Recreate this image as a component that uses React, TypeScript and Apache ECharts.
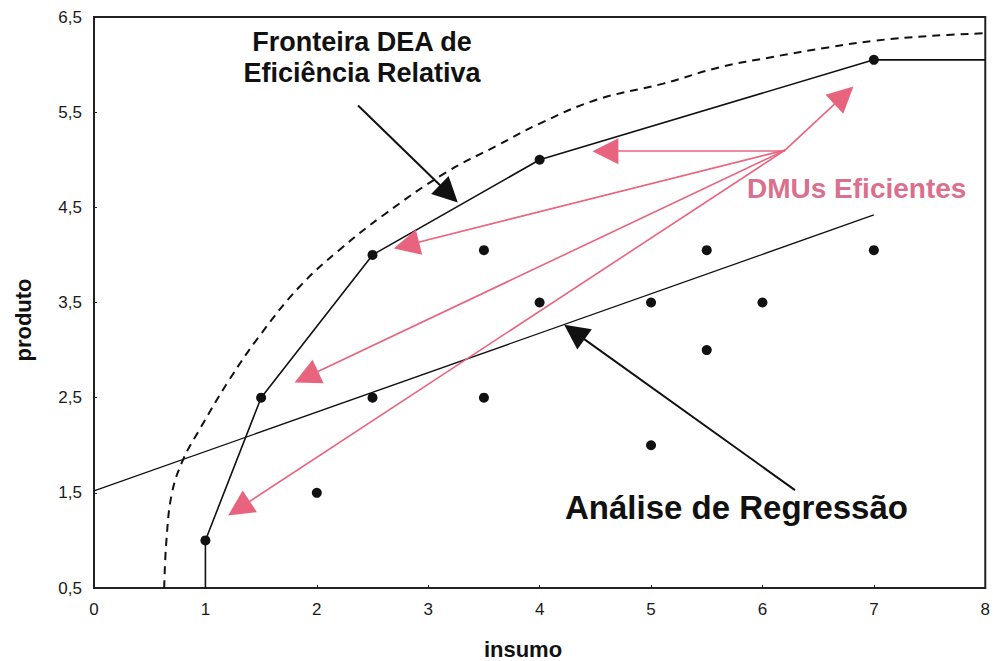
import React, { useEffect, useRef } from "react";
import * as echarts from "echarts";

const xTicks = [0, 1, 2, 3, 4, 5, 6, 7, 8];
const yTicks = [0.5, 1.5, 2.5, 3.5, 4.5, 5.5, 6.5];

// DEA frontier (solid piecewise line)
const frontierX = [1, 1, 1.5, 2.5, 4, 7, 8];
const frontierY = [0.5, 1, 2.5, 4, 5, 6.05, 6.05];

// DMU observations
const dmuX = [1, 1.5, 2.5, 4, 7, 2, 2.5, 3.5, 3.5, 4, 5, 5, 5.5, 5.5, 6, 7];
const dmuY = [1, 2.5, 4, 5, 6.05, 1.5, 2.5, 4.05, 2.5, 3.5, 3.5, 2, 4.05, 3, 3.5, 4.05];

// Regression line
const regX = [0, 7];
const regY = [1.52, 4.42];

// Dashed envelope curve
const curveX = [0.63, 0.65, 0.7, 0.8, 0.94, 1.21, 1.48, 1.84, 2.2, 2.6, 3.15, 3.62, 4.0, 4.51, 5.11, 5.61, 6.09, 6.59, 7.0, 7.5, 8.0];
const curveY = [0.5, 1.0, 1.5, 1.85, 2.15, 2.68, 3.14, 3.66, 4.05, 4.42, 4.86, 5.15, 5.38, 5.63, 5.8, 5.97, 6.08, 6.18, 6.25, 6.3, 6.33];

// Annotation arrows: [tailX, tailY, headX, headY]
const blackArrows = [
  [2.37, 5.57, 3.185, 4.643],
  [6.292, 1.529, 4.312, 3.189],
];
const pinkArrows = [
  [6.203, 5.101, 6.731, 5.676],
  [6.203, 5.09, 4.59, 5.09],
  [6.203, 5.101, 2.804, 4.102],
  [6.203, 5.101, 1.906, 2.717],
  [6.203, 5.101, 1.301, 1.336],
];

const FONT = "Liberation Sans, Arial, sans-serif";
const PINK = "#e8647e";

const zip = (xs: number[], ys: number[]) => xs.map((x, i) => [x, ys[i]]);

const arrowItems = (arr: number[][], color: string, width: number, size: number) =>
  arr.map((a) => [
    { coord: [a[0], a[1]], symbol: "none", lineStyle: { color, width, type: "solid" } },
    { coord: [a[2], a[3]], symbol: "triangle", symbolSize: size, itemStyle: { color } },
  ]);

export default function App() {
  const ref = useRef<HTMLDivElement>(null);
  useEffect(() => {
    document.body.style.margin = "0";
    if (!ref.current) return;
    const chart = echarts.init(ref.current, undefined, { renderer: "svg" });
    chart.setOption({
      animation: false,
      backgroundColor: "#fff",
      grid: {
        left: 94,
        right: 2,
        top: 17,
        bottom: 73,
        show: true,
        borderColor: "#222",
        borderWidth: 2,
        backgroundColor: "#fff",
      },
      xAxis: {
        type: "value",
        min: 0,
        max: 8,
        interval: 1,
        axisLine: { lineStyle: { color: "#222", width: 2 } },
        axisTick: { show: true, inside: true, length: 3, lineStyle: { color: "#222" } },
        splitLine: { show: false },
        axisLabel: {
          customValues: xTicks,
          fontSize: 17,
          color: "#1a1a1a",
          margin: 13,
          fontFamily: FONT,
        },
      },
      yAxis: {
        type: "value",
        min: 0.5,
        max: 6.5,
        interval: 0.5,
        axisLine: { show: true, lineStyle: { color: "#222", width: 2 } },
        axisTick: { show: true, inside: true, length: 3, customValues: yTicks, lineStyle: { color: "#222" } },
        splitLine: { show: false },
        axisLabel: {
          customValues: yTicks,
          fontSize: 17,
          color: "#1a1a1a",
          margin: 12,
          fontFamily: FONT,
          formatter: (v: number) => String(v).replace(".", ","),
        },
      },
      series: [
        {
          type: "line",
          data: zip(curveX, curveY),
          smooth: 0.4,
          symbol: "none",
          lineStyle: { color: "#111", width: 2, type: [8, 6] },
          silent: true,
        },
        {
          type: "line",
          data: zip(frontierX, frontierY),
          symbol: "none",
          lineStyle: { color: "#111", width: 1.6 },
          silent: true,
        },
        {
          type: "line",
          data: zip(regX, regY),
          symbol: "none",
          lineStyle: { color: "#111", width: 1.3 },
          silent: true,
        },
        {
          type: "scatter",
          data: zip(dmuX, dmuY),
          symbolSize: 10,
          itemStyle: { color: "#111", opacity: 1 },
          silent: true,
          markLine: {
            silent: true,
            animation: false,
            label: { show: false },
            emphasis: { disabled: true },
            data: [
              ...arrowItems(blackArrows, "#111", 2, 25),
              ...arrowItems(pinkArrows, PINK, 1.6, 26),
            ],
          },
        },
      ],
      graphic: [
        {
          type: "text",
          x: 362,
          y: 57,
          style: {
            text: "Fronteira DEA de\nEficiência Relativa",
            font: `bold 27px ${FONT}`,
            fill: "#111",
            align: "center",
            verticalAlign: "middle",
            lineHeight: 31,
          },
        },
        {
          type: "text",
          x: 747,
          y: 188,
          style: {
            text: "DMUs Eficientes",
            font: `bold 28px ${FONT}`,
            fill: "#d9708e",
            align: "left",
            verticalAlign: "middle",
          },
        },
        {
          type: "text",
          x: 565,
          y: 507,
          style: {
            text: "Análise de Regressão",
            font: `bold 33px ${FONT}`,
            fill: "#111",
            align: "left",
            verticalAlign: "middle",
          },
        },
        {
          type: "text",
          x: 523,
          y: 649,
          style: {
            text: "insumo",
            font: `bold 22px ${FONT}`,
            fill: "#111",
            align: "center",
            verticalAlign: "middle",
          },
        },
        {
          type: "text",
          x: 23,
          y: 320,
          rotation: Math.PI / 2,
          style: {
            text: "produto",
            font: `bold 22px ${FONT}`,
            fill: "#111",
            align: "center",
            verticalAlign: "middle",
          },
        },
      ],
    });
    return () => chart.dispose();
  }, []);
  return <div ref={ref} style={{ width: 993, height: 661 }} />;
}
